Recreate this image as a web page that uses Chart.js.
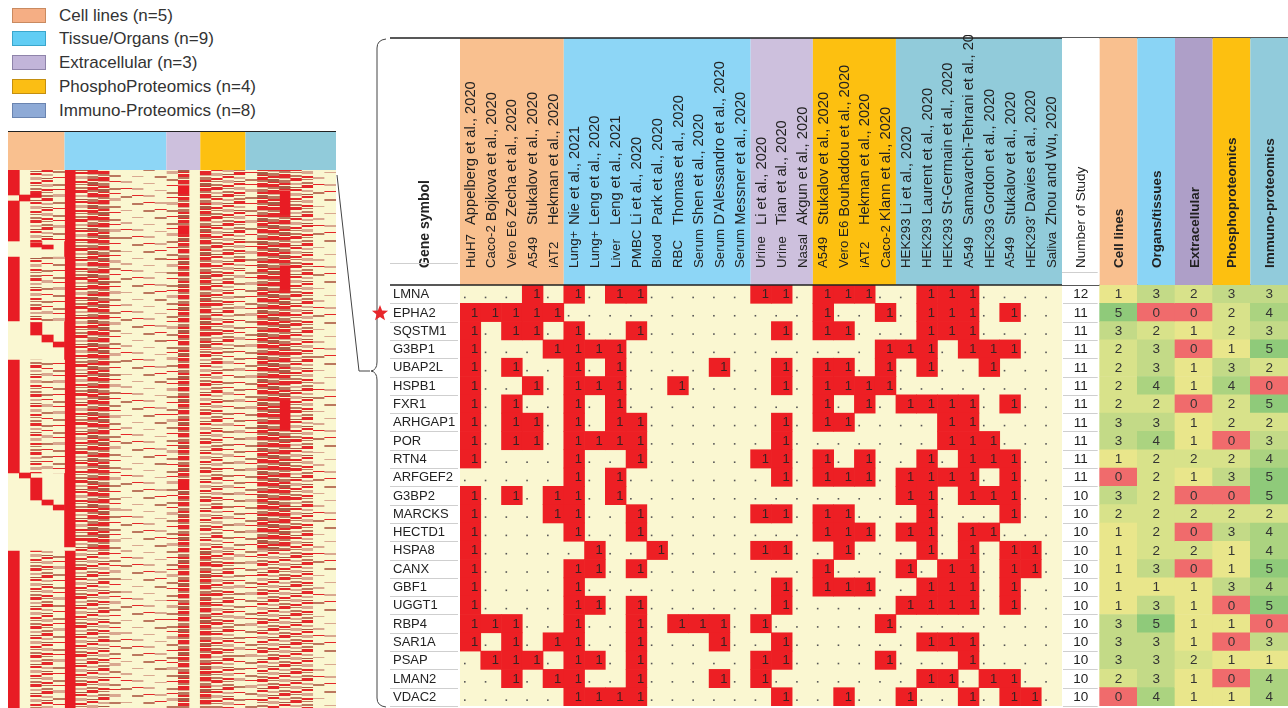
<!DOCTYPE html>
<html>
<head>
<meta charset="utf-8">
<title>Proteins reported across SARS-CoV-2 proteomics studies</title>
<script src="https://cdn.jsdelivr.net/npm/chart.js@4.4.1/dist/chart.umd.min.js"></script>
<style>
  body { margin: 0; background: #fff; font-family: "Liberation Sans", Arial, sans-serif; }
  #page { position: relative; width: 1288px; height: 708px; overflow: hidden; }
  #page canvas { position: absolute; left: 0; top: 0; }
  .key { position: absolute; left: 12px; height: 15px; display: flex; align-items: center; white-space: nowrap; }
  .key .sw { width: 34px; height: 15px; box-sizing: border-box; border: 1px solid; margin-right: 13px; }
  .key .tx { font-size: 17px; color: #333; }
</style>
</head>
<body>
<div id="page">
  <div id="legend"></div>
  <canvas id="overview" width="1288" height="708"></canvas>
  <canvas id="matrix" width="1288" height="708"></canvas>
  <canvas id="summary" width="1288" height="708"></canvas>
</div>
<script>
const FONT = '"Liberation Sans", Arial, sans-serif';
const cream = "#faf7d1";
const hitRed = "#ed1f24";

// study groups
const groupNames = ["Cell lines", "Tissue/Organs", "Extracellular", "PhosphoProteomics", "Immuno-Proteomics"];
const groupSizes = [5, 9, 3, 4, 8];
const groupColors = ["#f9c08f", "#8dd6f6", "#cdc0dd", "#fdc010", "#91cbda"];
const keyFill = ["#f5ae84", "#61cdf4", "#c2b5d9", "#fbbe14", "#8eaad6"];
const keyEdge = ["#c98a60", "#3aa6cc", "#8f84aa", "#c48f10", "#6a84b0"];

// one entry per study column
const sampleTypes = ["HuH7", "Caco-2", "Vero E6", "A549", "iAT2",
  "Lung+", "Lung+", "Liver", "PMBC", "Blood", "RBC", "Serum", "Serum", "Serum",
  "Urine", "Urine", "Nasal",
  "A549", "Vero E6", "iAT2", "Caco-2",
  "HEK293", "HEK293", "HEK293", "A549", "HEK293", "A549", "HEK293'", "Saliva"];
const studies = ["Appelberg et al., 2020", "Bojkova et al., 2020", "Zecha et al., 2020", "Stukalov et al., 2020", "Hekman et al., 2020",
  "Nie et al., 2021", "Leng et al., 2020", "Leng et al., 2021", "Li et al., 2020", "Park et al., 2020",
  "Thomas et al., 2020", "Shen et al., 2020", "D'Alessandro et al., 2020", "Messner et al., 2020",
  "Li et al., 2020", "Tian et al., 2020", "Akgun et al., 2020",
  "Stukalov et al., 2020", "Bouhaddou et al., 2020", "Hekman et al., 2020", "Klann et al., 2020",
  "Li et al., 2020", "Laurent et al., 2020", "St-Germain et al., 2020", "Samavarchi-Tehrani et al., 2020",
  "Gordon et al., 2020", "Stukalov et al., 2020", "Davies et al., 2020", "Zhou and Wu, 2020"];

const genes = ["LMNA", "EPHA2", "SQSTM1", "G3BP1", "UBAP2L", "HSPB1", "FXR1", "ARHGAP1", "POR", "RTN4", "ARFGEF2",
  "G3BP2", "MARCKS", "HECTD1", "HSPA8", "CANX", "GBF1", "UGGT1", "RBP4", "SAR1A", "PSAP", "LMAN2", "VDAC2"];
const starredGene = "EPHA2";

// detection per gene, as printed: "1" = found, "." = not found ("|" separates the groups)
const hits = [
  "...1.|1.11.....|11.|111.|.111....",
  "11111|.........|...|1..1|.111.1..",
  "1.11.|1..1.....|.1.|11..|.111....",
  "1...1|111......|...|...1|11.111..",
  "1.1..|1.1....1.|.1.|11.1|.1..1...",
  "1..1.|111..1...|.1.|1111|........",
  "1.1..|1.1......|...|1.1.|1111.1..",
  "1.11.|1.11.....|.1.|11..|..11....",
  "1.11.|1111.....|.1.|....|..111...",
  "1....|1..1.....|11.|1.1.|.1.111..",
  ".....|1.1......|.1.|111.|1111.1..",
  "1.1.1|1.1......|...|....|11.111..",
  "1...1|1..1.....|11.|11..|.1...1..",
  "1....|1..1.....|...|111.|11.11...",
  "1....|.1..1....|11.|.1..|.1.1.11.",
  "1....|11.1.....|...|1...|1.11.11.",
  "1....|1........|.1.|111.|.111.1..",
  "1....|11.1.....|.1.|....|1111.1..",
  "111..|1..1.111.|1..|...1|........",
  "1.1.1|1..1...1.|.1.|....|.111....",
  ".111.|11.1.....|11.|...1|...1....",
  "..1.1|1..1...1.|1..|....|.11.11..",
  ".....|1111.....|.1.|.1..|1..1.11."
];

// right-hand table
const summaryCols = ["Number of Study", "Cell lines", "Organs/tissues", "Extracellular", "Phosphoproteomics", "Immuno-proteomics"];
const summaryColors = ["#ffffff", "#f9c08f", "#8ad4f5", "#ae9fc8", "#fdc010", "#91cbdb"];
const nStudies = [12, 11, 11, 11, 11, 11, 11, 11, 11, 11, 11, 10, 10, 10, 10, 10, 10, 10, 10, 10, 10, 10, 10];
const cellLineCounts = [1, 5, 3, 2, 2, 2, 2, 3, 3, 1, 0, 3, 2, 1, 1, 1, 1, 1, 3, 3, 3, 2, 0];
const organCounts = [3, 0, 2, 3, 3, 4, 2, 3, 4, 2, 2, 2, 2, 2, 2, 3, 1, 3, 5, 3, 3, 3, 4];
const extracellularCounts = [2, 0, 1, 0, 1, 1, 0, 1, 1, 2, 1, 0, 2, 0, 2, 0, 1, 1, 1, 1, 2, 1, 1];
const phosphoCounts = [3, 2, 2, 1, 3, 4, 2, 2, 0, 2, 3, 0, 2, 3, 1, 1, 3, 0, 1, 0, 1, 0, 1];
const immunoCounts = [3, 4, 3, 5, 2, 0, 5, 2, 3, 4, 5, 5, 2, 4, 4, 5, 4, 5, 0, 3, 1, 4, 4];
const scoreColors = ["#f06b6c", "#e9e68b", "#d8e28a", "#c3da87", "#abd380", "#8fca7a"];

// overview heatmap of the whole gene list (538 ranked bins), per study: [fromBin, toBin, level]
// level 1 = few hits ... 4 = many hits, 5 = found in nearly every gene of the bin
const overviewBins = 538;
const overview = [
  [[0, 25, 5], [31, 71, 5], [87, 151, 5], [190, 303, 5], [381, 538, 5]],
  [[25, 31, 5], [303, 308, 5]],
  [[0, 23, 3], [23, 28, 5], [28, 72, 3], [72, 77, 5], [87, 152, 3], [152, 165, 5], [190, 303, 3], [308, 330, 5], [381, 538, 3]],
  [[0, 71, 3], [75, 79, 5], [87, 151, 2], [165, 172, 5], [190, 303, 2], [330, 335, 5], [381, 538, 3]],
  [[0, 71, 2], [87, 151, 2], [172, 177, 5], [190, 303, 2], [335, 340, 5], [381, 538, 2]],
  [[0, 377, 5], [381, 538, 5]],
  [[0, 538, 3]],
  [[0, 380, 4], [380, 538, 3]],
  [[0, 380, 4], [380, 538, 3]],
  [[0, 538, 2]],
  [[0, 538, 1]],
  [[0, 538, 1]],
  [[0, 538, 1]],
  [[0, 538, 1]],
  [[0, 538, 2]],
  [[0, 15, 4], [15, 25, 5], [25, 55, 4], [55, 65, 5], [65, 310, 4], [310, 320, 5], [320, 538, 4]],
  [],
  [[0, 180, 4], [180, 380, 3], [380, 538, 4]],
  [[0, 538, 3]],
  [[0, 180, 3], [180, 380, 2], [380, 538, 3]],
  [[0, 100, 3], [100, 538, 2]],
  [[0, 538, 2]],
  [[0, 380, 4], [380, 538, 3]],
  [[0, 380, 4], [380, 538, 3]],
  [[0, 20, 4], [20, 45, 5], [45, 95, 4], [95, 120, 5], [120, 230, 4], [230, 260, 5], [260, 380, 4], [380, 538, 3]],
  [[0, 538, 3]],
  [[0, 538, 3]],
  [[0, 538, 1]],
  [[0, 538, 1]]
];

// ---------- legend ----------
const keyTops = [8, 31, 55, 79, 103];
const legendBox = document.getElementById("legend");
groupNames.forEach((name, i) => {
  const row = document.createElement("div");
  row.className = "key";
  row.style.top = keyTops[i] + "px";
  row.innerHTML = '<span class="sw" style="background:' + keyFill[i] + ";border-color:" + keyEdge[i] +
    '"></span><span class="tx">' + name + " (n=" + groupSizes[i] + ")</span>";
  legendBox.appendChild(row);
});

// ---------- helpers ----------
// unique category labels (several studies share a name)
const studyLabels = studies.map((s, i) => (i + 1) + ". " + sampleTypes[i] + " " + s);
const headerTop = 38;
const sampleFont = "13.3px " + FONT;
const studyFont = "14.7px " + FONT;

function vText(ctx, str, cx, bottom, font, color) {
  ctx.save();
  ctx.translate(cx, bottom);
  ctx.rotate(-Math.PI / 2);
  ctx.font = font;
  ctx.fillStyle = color || "#222";
  ctx.textAlign = "left";
  ctx.textBaseline = "middle";
  ctx.fillText(str, 0, 0);
  ctx.restore();
}

function groupSpans(x, n) {
  const half = (x.right - x.left) / n / 2;
  const spans = [];
  let start = 0;
  groupSizes.forEach((size, g) => {
    spans.push([x.getPixelForValue(start) - half, x.getPixelForValue(start + size - 1) + half, g]);
    start += size;
  });
  return spans;
}

// stripe textures for the overview heatmap (irregular tiles so rows do not line up)
const brown = "#bb775e", pale = "#d9a890", dark = "#a85a45", red = "#e4282a";
const stripeStyles = {
  1: { period: 41, lines: [[3, 2, brown], [17, 1, pale], [29, 2, pale], [36, 1, red]] },
  2: { period: 31, lines: [[1, 2, brown], [6, 1, red], [11, 3, pale], [19, 2, brown], [25, 1, red]] },
  3: { period: 29, lines: [[0, 2, brown], [3, 3, red], [8, 2, pale], [12, 1, dark], [14, 2, red], [18, 3, pale], [23, 2, red], [26, 1, brown]] },
  4: { period: 23, lines: [[0, 3, red], [3, 2, brown], [6, 4, red], [10, 1, pale], [12, 3, brown], [15, 2, red], [18, 3, dark], [21, 1, red]] }
};
const stripeCache = {};
function stripe(level, col) {
  if (level === 5) return "#e81c24";
  const spec = stripeStyles[level];
  const shift = (col * 7) % spec.period;
  const key = level + "_" + shift;
  if (!stripeCache[key]) {
    const c = document.createElement("canvas");
    c.width = 2; c.height = spec.period;
    const g = c.getContext("2d");
    g.fillStyle = cream;
    g.fillRect(0, 0, 2, spec.period);
    spec.lines.forEach(([o, h, color]) => {
      g.fillStyle = color;
      const y0 = (o + shift) % spec.period;
      g.fillRect(0, y0, 2, h);
      if (y0 + h > spec.period) g.fillRect(0, y0 - spec.period, 2, h);
    });
    stripeCache[key] = g.createPattern(c, "repeat");
  }
  return stripeCache[key];
}

// ---------- overview heatmap (left) ----------
const overviewDeco = {
  id: "overviewDeco",
  beforeDatasetsDraw(chart) {
    const { ctx, chartArea: a, scales: { x } } = chart;
    ctx.save();
    ctx.fillStyle = cream;
    ctx.fillRect(a.left, a.top, a.right - a.left, a.bottom - a.top);
    groupSpans(x, studies.length).forEach(([x0, x1, g]) => {
      ctx.fillStyle = groupColors[g];
      ctx.fillRect(x0, 131, x1 - x0, a.top - 131);
    });
    ctx.strokeStyle = "#222";
    ctx.lineWidth = 1;
    ctx.beginPath();
    ctx.moveTo(a.left, 131.5);
    ctx.lineTo(a.right, 131.5);
    ctx.stroke();
    ctx.restore();
  },
  afterDraw(chart) {
    const { ctx, chartArea: a } = chart;
    ctx.save();
    ctx.strokeStyle = "#444";
    ctx.lineWidth = 1;
    // zoom connector
    ctx.beginPath();
    ctx.moveTo(a.right + 1, a.top + 5);
    ctx.lineTo(359, 371);
    ctx.lineTo(370, 371);
    ctx.stroke();
    // brace around the zoomed table
    ctx.beginPath();
    ctx.moveTo(386, 39);
    ctx.quadraticCurveTo(377, 40, 377, 48);
    ctx.lineTo(377, 362);
    ctx.quadraticCurveTo(377, 370, 371, 371);
    ctx.quadraticCurveTo(377, 372, 377, 380);
    ctx.lineTo(377, 698);
    ctx.quadraticCurveTo(377, 706, 386, 707);
    ctx.stroke();
    ctx.restore();
  }
};

const levelDatasets = [1, 2, 3, 4, 5].map(level => ({
  label: "level " + level,
  data: overview.flatMap((segs, col) => segs.filter(s => s[2] === level)
    .map(s => ({ x: studyLabels[col], y: [s[0], s[1]], col: col }))),
  backgroundColor: c => stripe(level, c.raw ? c.raw.col : 0),
  borderWidth: 0,
  barPercentage: 1,
  categoryPercentage: 1,
  grouped: false
}));

new Chart(document.getElementById("overview"), {
  type: "bar",
  data: { labels: studyLabels, datasets: levelDatasets },
  options: {
    responsive: false,
    animation: false,
    events: [],
    layout: { padding: { left: 8, right: 952, top: 170, bottom: 0 } },
    scales: {
      x: { display: false },
      y: { type: "linear", min: 0, max: overviewBins, reverse: true, display: false }
    },
    plugins: { legend: { display: false }, tooltip: { enabled: false } }
  },
  plugins: [overviewDeco]
});

// ---------- gene x study matrix ----------
const hitRows = hits.map(h => h.replace(/\|/g, ""));
const hitCells = [];
hitRows.forEach((row, r) => {
  row.split("").forEach((ch, c) => {
    if (ch === "1") hitCells.push({ x: studyLabels[c], y: [r, r + 1] });
  });
});

const matrixDeco = {
  id: "matrixDeco",
  beforeDatasetsDraw(chart) {
    const { ctx, chartArea: a, scales: { x, y } } = chart;
    const half = (a.right - a.left) / studies.length / 2;
    ctx.save();
    ctx.fillStyle = cream;
    ctx.fillRect(a.left, a.top, a.right - a.left, a.bottom - a.top);
    groupSpans(x, studies.length).forEach(([x0, x1, g]) => {
      ctx.fillStyle = groupColors[g];
      ctx.fillRect(x0, headerTop, x1 - x0, a.top - headerTop);
    });
    // "." for not found
    ctx.fillStyle = "#555";
    hitRows.forEach((row, r) => {
      row.split("").forEach((ch, c) => {
        if (ch === ".") ctx.fillRect(x.getPixelForValue(c) - half + 4, y.getPixelForValue(r + 0.5) + 2.5, 1.6, 1.6);
      });
    });
    ctx.restore();
  },
  afterDatasetsDraw(chart) {
    const { ctx } = chart;
    ctx.save();
    ctx.font = "13px " + FONT;
    ctx.fillStyle = "#3a2222";
    ctx.textAlign = "right";
    ctx.textBaseline = "middle";
    chart.getDatasetMeta(0).data.forEach(el => {
      ctx.fillText("1", el.x + el.width / 2 - 2.5, (el.y + el.base) / 2 + 0.5);
    });
    ctx.restore();
  },
  afterDraw(chart) {
    const { ctx, chartArea: a, scales: { x, y } } = chart;
    ctx.save();
    // header texts: sample type, then the study from a common start (or right after a long sample name)
    ctx.beginPath();
    ctx.rect(388, 35, 700, 260);
    ctx.clip();
    studies.forEach((s, i) => {
      const cx = x.getPixelForValue(i) + 0.5;
      ctx.font = sampleFont;
      const w = ctx.measureText(sampleTypes[i]).width;
      vText(ctx, sampleTypes[i], cx, 268, sampleFont);
      vText(ctx, s, cx, Math.min(225, 268 - w - 4), studyFont);
    });
    vText(ctx, "Gene symbol", 425, 268, "bold 14px " + FONT);
    ctx.restore();

    ctx.save();
    // gene labels with light row rules
    ctx.strokeStyle = "#cfcfcf";
    ctx.lineWidth = 1;
    ctx.beginPath();
    ctx.moveTo(390, 263.5);
    ctx.lineTo(a.left - 2, 263.5);
    for (let r = 1; r <= genes.length; r++) {
      const py = Math.round(y.getPixelForValue(r)) + 0.5;
      ctx.moveTo(390, py);
      ctx.lineTo(a.left - 2, py);
    }
    ctx.stroke();
    ctx.font = "13px " + FONT;
    ctx.fillStyle = "#222";
    ctx.textAlign = "left";
    ctx.textBaseline = "middle";
    genes.forEach((g, r) => ctx.fillText(g, 393, y.getPixelForValue(r + 0.5) + 0.5));
    // top and header rules
    ctx.strokeStyle = "#222";
    ctx.lineWidth = 1.5;
    ctx.beginPath();
    ctx.moveTo(390, headerTop);
    ctx.lineTo(1288, headerTop);
    ctx.moveTo(390, a.top);
    ctx.lineTo(1288, a.top);
    ctx.stroke();
    // star
    const sy = y.getPixelForValue(genes.indexOf(starredGene) + 0.5);
    ctx.fillStyle = "#e8262b";
    ctx.beginPath();
    for (let i = 0; i < 10; i++) {
      const ang = -Math.PI / 2 + i * Math.PI / 5;
      const rad = i % 2 ? 3.6 : 8.5;
      ctx.lineTo(380 + rad * Math.cos(ang), sy + 1 + rad * Math.sin(ang));
    }
    ctx.closePath();
    ctx.fill();
    ctx.restore();
  }
};

new Chart(document.getElementById("matrix"), {
  type: "bar",
  data: {
    labels: studyLabels,
    datasets: [{
      label: "found",
      data: hitCells,
      backgroundColor: hitRed,
      borderWidth: 0,
      barPercentage: 1,
      categoryPercentage: 1
    }]
  },
  options: {
    responsive: false,
    animation: false,
    events: [],
    layout: { padding: { left: 460, right: 226, top: 285, bottom: 2 } },
    scales: {
      x: { display: false },
      y: { type: "linear", min: 0, max: genes.length, reverse: true, display: false }
    },
    plugins: { legend: { display: false }, tooltip: { enabled: false } }
  },
  plugins: [matrixDeco]
});

// ---------- summary table (right) ----------
const countColumns = [cellLineCounts, organCounts, extracellularCounts, phosphoCounts, immunoCounts];
const scoreCells = [];
countColumns.forEach((vals, k) => {
  vals.forEach((v, r) => scoreCells.push({ x: summaryCols[k + 1], y: [r, r + 1], v: v }));
});

const summaryDeco = {
  id: "summaryDeco",
  beforeDatasetsDraw(chart) {
    const { ctx, chartArea: a, scales: { x } } = chart;
    const half = (a.right - a.left) / summaryCols.length / 2;
    ctx.save();
    summaryCols.forEach((name, k) => {
      ctx.fillStyle = summaryColors[k];
      ctx.fillRect(x.getPixelForValue(k) - half, headerTop, half * 2, a.top - headerTop);
    });
    ctx.restore();
  },
  afterDatasetsDraw(chart) {
    const { ctx, chartArea: a, scales: { x, y } } = chart;
    const half = (a.right - a.left) / summaryCols.length / 2;
    ctx.save();
    // rules of the count column
    ctx.strokeStyle = "#cfcfcf";
    ctx.lineWidth = 1;
    ctx.beginPath();
    ctx.moveTo(a.left, 272.5);
    ctx.lineTo(a.left + 2 * half - 2, 272.5);
    for (let r = 1; r <= genes.length; r++) {
      const py = Math.round(y.getPixelForValue(r)) + 0.5;
      ctx.moveTo(a.left + 1, py);
      ctx.lineTo(a.left + 2 * half - 2, py);
    }
    ctx.stroke();
    ctx.font = "13.5px " + FONT;
    ctx.fillStyle = "#222";
    ctx.textAlign = "center";
    ctx.textBaseline = "middle";
    nStudies.forEach((n, r) => ctx.fillText(String(n), x.getPixelForValue(0), y.getPixelForValue(r + 0.5) + 0.5));
    ctx.fillStyle = "#333";
    chart.getDatasetMeta(0).data.forEach((el, i) => {
      ctx.fillText(String(scoreCells[i].v), el.x, (el.y + el.base) / 2 + 0.5);
    });
    // header labels
    vText(ctx, summaryCols[0], x.getPixelForValue(0), 268, "13.5px " + FONT);
    for (let k = 1; k < summaryCols.length; k++) {
      vText(ctx, summaryCols[k], x.getPixelForValue(k) + 1, 268, "bold 13.5px " + FONT);
    }
    ctx.restore();
  }
};

new Chart(document.getElementById("summary"), {
  type: "bar",
  data: {
    labels: summaryCols,
    datasets: [{
      label: "studies per group",
      data: scoreCells,
      backgroundColor: c => scoreColors[c.raw ? c.raw.v : 0],
      borderWidth: 0,
      barPercentage: 1,
      categoryPercentage: 1
    }]
  },
  options: {
    responsive: false,
    animation: false,
    events: [],
    layout: { padding: { left: 1062, right: 0, top: 285, bottom: 2 } },
    scales: {
      x: { display: false },
      y: { type: "linear", min: 0, max: genes.length, reverse: true, display: false }
    },
    plugins: { legend: { display: false }, tooltip: { enabled: false } }
  },
  plugins: [summaryDeco]
});
</script>
</body>
</html>
